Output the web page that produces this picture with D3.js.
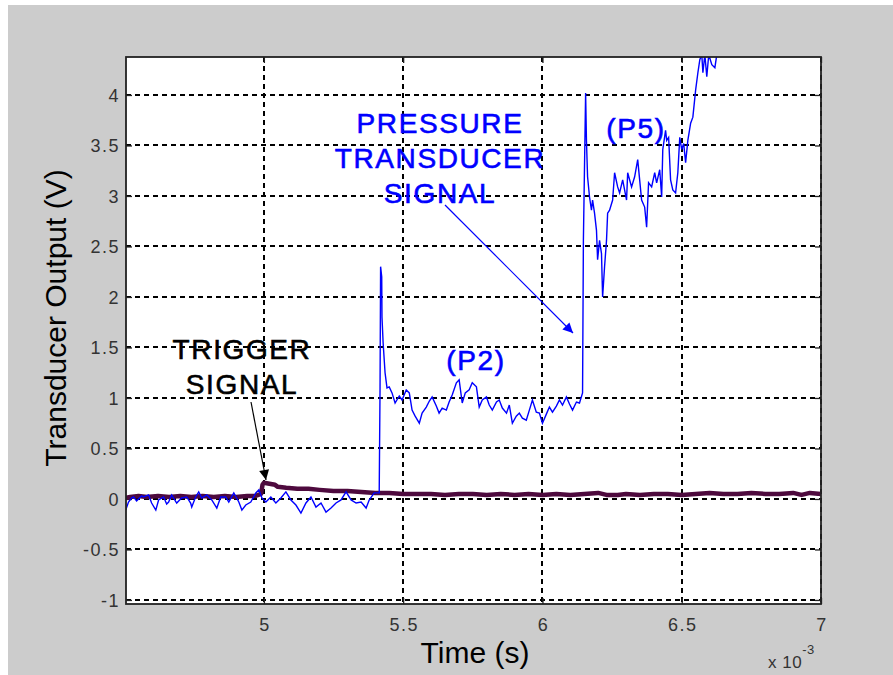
<!DOCTYPE html>
<html><head><meta charset="utf-8">
<script src="https://cdn.jsdelivr.net/npm/d3@7"></script>
<style>body{margin:0;background:#fff}svg{display:block}text{font-family:"Liberation Sans",Arial,sans-serif}</style>
</head><body><svg id="c" width="893" height="675"></svg>
<script>
// ---- data (time in ms, i.e. x 10^-3 s; output in V) ----
const xTicks = [5, 5.5, 6, 6.5, 7];
const xTickLabels = ["5", "5.5", "6", "6.5", "7"];
const yTicks = [-1, -0.5, 0, 0.5, 1, 1.5, 2, 2.5, 3, 3.5, 4];
const yTickLabels = ["-1", "-0.5", "0", "0.5", "1", "1.5", "2", "2.5", "3", "3.5", "4"];

const pressureTime = [4.504,4.514,4.525,4.532,4.543,4.550,4.561,4.568,4.586,4.597,4.612,4.622,4.640,4.651,4.658,4.669,4.687,4.701,4.705,4.723,4.737,4.741,4.755,4.766,4.777,4.795,4.813,4.831,4.845,4.863,4.874,4.892,4.910,4.921,4.935,4.953,4.971,4.982,4.993,5.007,5.025,5.043,5.061,5.079,5.097,5.115,5.133,5.151,5.169,5.187,5.205,5.223,5.241,5.259,5.277,5.295,5.313,5.331,5.349,5.367,5.378,5.396,5.414,
 5.417,5.419,5.423,5.424,5.428,5.435,5.442,5.450,5.460,5.471,5.486,5.496,5.511,5.522,5.532,5.543,5.558,5.568,5.583,5.594,5.604,5.619,5.629,5.640,5.655,5.665,5.676,5.691,5.701,5.712,5.723,5.737,5.748,5.763,5.773,5.784,5.799,5.809,5.820,5.835,5.845,5.856,5.871,5.881,5.892,5.906,5.917,5.928,5.942,5.953,5.964,5.978,5.989,6.000,6.014,6.025,6.036,6.050,6.061,6.072,6.086,6.097,6.108,6.122,6.133,6.144,
 6.147,6.155,6.158,6.162,6.169,6.176,6.180,6.187,6.194,6.198,6.205,6.212,6.216,6.223,6.230,6.234,6.241,6.252,6.259,6.270,6.277,6.288,6.302,6.306,6.320,6.331,6.342,6.349,6.356,6.367,6.374,6.381,6.392,6.403,6.410,6.421,6.428,6.432,6.442,6.446,6.453,6.460,6.468,6.478,6.486,6.493,6.500,6.507,6.514,6.522,6.532,6.540,6.550,6.558,6.565,6.572,6.576,6.583,6.590,6.597,6.608,6.619,6.626,6.637,6.655];
const pressureVolts = [-0.11,-0.03,0.01,0.02,-0.02,0.00,0.03,0.02,0.04,-0.04,-0.11,-0.01,0.02,-0.05,-0.03,0.04,-0.04,0.00,0.01,0.02,-0.04,-0.08,0.02,0.07,0.01,0.04,-0.01,-0.09,0.02,0.02,-0.03,0.06,-0.03,-0.11,-0.06,-0.03,0.06,0.09,0.01,-0.03,0.02,-0.04,0.01,0.07,-0.01,-0.06,-0.14,-0.04,0.02,-0.08,-0.04,-0.13,-0.09,-0.04,-0.01,0.07,-0.01,-0.04,-0.03,-0.09,-0.01,0.06,0.06,
 1.10,2.30,2.20,1.80,1.55,1.25,1.10,1.11,1.05,0.95,1.02,0.98,1.08,1.05,0.88,0.82,0.75,0.85,0.91,0.97,1.01,0.92,0.85,0.90,0.88,0.96,1.03,1.15,1.18,0.95,1.05,1.08,1.15,1.11,0.91,0.98,1.01,0.93,0.88,0.96,0.98,0.90,0.85,0.93,0.75,0.82,0.85,0.80,0.78,0.88,0.98,0.86,0.85,0.75,0.84,0.91,0.86,0.92,0.98,0.93,1.01,0.94,0.88,0.96,0.95,1.05,
 2.56,4.02,3.55,3.19,2.99,2.86,2.96,2.83,2.66,2.37,2.56,2.43,2.00,2.30,2.56,2.83,2.86,2.96,3.23,3.09,3.03,3.16,2.96,3.23,3.09,3.19,3.36,3.16,2.96,2.89,2.69,3.13,3.09,3.23,3.13,3.26,2.99,3.46,3.65,3.55,3.58,3.16,3.06,3.03,3.23,3.58,3.46,3.52,3.33,3.55,3.72,3.78,4.05,4.22,4.35,4.40,4.22,4.40,4.18,4.40,4.30,4.27,4.40,4.60,4.90];

const triggerTime = [4.50,4.52,4.55,4.58,4.62,4.66,4.70,4.74,4.78,4.82,4.86,4.90,4.94,4.97,4.99,4.995,5.00,5.02,5.04,5.05,5.08,5.12,5.16,5.20,5.25,5.30,5.35,5.40,5.45,5.50,5.55,5.60,5.65,5.70,5.75,5.80,5.85,5.90,5.95,6.00,6.05,6.10,6.15,6.20,6.23,6.27,6.30,6.35,6.40,6.45,6.50,6.55,6.60,6.65,6.70,6.75,6.80,6.85,6.90,6.93,6.96,7.00];
const triggerVolts = [0.01,0.02,0.03,0.02,0.03,0.02,0.03,0.02,0.03,0.02,0.03,0.02,0.03,0.03,0.05,0.14,0.16,0.15,0.14,0.12,0.11,0.10,0.10,0.09,0.08,0.08,0.07,0.06,0.06,0.05,0.05,0.05,0.04,0.05,0.05,0.04,0.05,0.04,0.05,0.04,0.05,0.04,0.05,0.06,0.04,0.04,0.05,0.04,0.05,0.05,0.04,0.05,0.06,0.05,0.05,0.06,0.05,0.05,0.06,0.04,0.06,0.05];

// ---- chart ----
const svg = d3.select("#c");
const L = 126, T = 57, R = 821, B = 604;
const x = d3.scaleLinear().domain([4.505, 7]).range([L, R]);
const y = d3.scaleLinear().domain([-1.04, 4.376]).range([B, T]);

svg.append("rect").attr("x", 8).attr("y", 5).attr("width", 885).attr("height", 670).attr("fill", "#cccccc");
svg.append("rect").attr("x", L).attr("y", T).attr("width", R - L).attr("height", B - T).attr("fill", "#ffffff");

svg.append("defs").append("clipPath").attr("id", "clip")
  .append("rect").attr("x", L).attr("y", T).attr("width", R - L).attr("height", B - T);

// grid
const px = v => Math.round(v);
const grid = svg.append("g").attr("stroke", "#000").attr("stroke-width", 1.5)
  .attr("stroke-dasharray", "5,4").attr("shape-rendering", "crispEdges");
grid.selectAll("line.v").data(xTicks).join("line").attr("class", "v")
  .attr("x1", d => px(x(d))).attr("x2", d => px(x(d))).attr("y1", T).attr("y2", B);
grid.selectAll("line.h").data(yTicks).join("line").attr("class", "h")
  .attr("x1", L).attr("x2", R).attr("y1", d => px(y(d))).attr("y2", d => px(y(d)));

// axes (inward ticks)
const axB = svg.append("g").attr("transform", `translate(0,${B})`)
  .call(d3.axisTop(x).tickValues(xTicks).tickSize(6).tickFormat(""));
const axT = svg.append("g").attr("transform", `translate(0,${T})`)
  .call(d3.axisBottom(x).tickValues(xTicks).tickSize(6).tickFormat(""));
const axL = svg.append("g").attr("transform", `translate(${L},0)`)
  .call(d3.axisRight(y).tickValues(yTicks).tickSize(6).tickFormat(""));
const axR = svg.append("g").attr("transform", `translate(${R},0)`)
  .call(d3.axisLeft(y).tickValues(yTicks).tickSize(6).tickFormat(""));
[axB, axT, axL, axR].forEach(g => { g.select(".domain").remove(); g.selectAll("line").attr("stroke", "#222").attr("stroke-width", 1.3); });

// data lines
const plot = svg.append("g").attr("clip-path", "url(#clip)");
const line = d3.line().x(d => x(d[0])).y(d => y(d[1]));
plot.append("path").datum(triggerTime.map((t, i) => [t, triggerVolts[i]]))
  .attr("d", line).attr("fill", "none").attr("stroke", "#4e0a3e").attr("stroke-width", 4.5).attr("stroke-linejoin", "round");
plot.append("path").datum(pressureTime.map((t, i) => [t, pressureVolts[i]]))
  .attr("d", line).attr("fill", "none").attr("stroke", "#0000ff").attr("stroke-width", 1.4);

// frame
svg.append("rect").attr("x", L).attr("y", T).attr("width", R - L).attr("height", B - T)
  .attr("fill", "none").attr("stroke", "#222").attr("stroke-width", 1.8);

// tick labels
svg.append("g").selectAll("text").data(xTicks).join("text")
  .attr("x", d => x(d) + 1).attr("y", 631).attr("text-anchor", "middle")
  .attr("font-size", 18).attr("letter-spacing", 1.5).attr("fill", "#333")
  .text((d, i) => xTickLabels[i]);
svg.append("g").selectAll("text").data(yTicks).join("text")
  .attr("x", 120).attr("y", d => y(d) + 7).attr("text-anchor", "end")
  .attr("font-size", 18).attr("letter-spacing", 1.5).attr("fill", "#333")
  .text((d, i) => yTickLabels[i]);

// exponent
const ex = svg.append("text").attr("x", 768).attr("y", 668).attr("font-size", 17).attr("fill", "#333").attr("letter-spacing", 0.5);
ex.append("tspan").text("x 10");
ex.append("tspan").attr("dy", -14).attr("font-size", 13).text("-3");

// axis titles
svg.append("text").attr("x", 475).attr("y", 663).attr("text-anchor", "middle")
  .attr("font-size", 30).attr("fill", "#000").text("Time (s)");
svg.append("text").attr("transform", "translate(66,318) rotate(-90)").attr("text-anchor", "middle")
  .attr("font-size", 30).attr("fill", "#000").text("Transducer Output (V)");

// annotations
function label(lines, cx, y0, color) {
  lines.forEach((s, i) => {
    svg.append("text").attr("x", cx).attr("y", y0 + i * 35).attr("text-anchor", "middle")
      .attr("font-size", 28).attr("letter-spacing", 1.6).attr("fill", color)
      .attr("stroke", color).attr("stroke-width", 0.6).text(s);
  });
}
label(["PRESSURE", "TRANSDUCER", "SIGNAL"], 440, 133, "#0000ff");
label(["TRIGGER", "SIGNAL"], 242, 359, "#000");
label(["(P2)"], 476, 370, "#0000ff");
label(["(P5)"], 636, 138, "#0000ff");

// arrows
const defs = svg.select("defs");
[["ab", "#0000ff"], ["ak", "#000"]].forEach(([id, c]) => {
  defs.append("marker").attr("id", id).attr("viewBox", "0 0 10 10").attr("refX", 10).attr("refY", 5)
    .attr("markerWidth", 16).attr("markerHeight", 10).attr("markerUnits", "userSpaceOnUse").attr("orient", "auto")
    .append("path").attr("d", "M0,0 L10,5 L0,10 Z").attr("fill", c);
});
svg.append("line").attr("x1", 445).attr("y1", 205).attr("x2", 573).attr("y2", 333)
  .attr("stroke", "#0000ff").attr("stroke-width", 1.2).attr("marker-end", "url(#ab)");
svg.append("line").attr("x1", 251).attr("y1", 402).attr("x2", 266).attr("y2", 480)
  .attr("stroke", "#000").attr("stroke-width", 1.2).attr("marker-end", "url(#ak)");
</script></body></html>
